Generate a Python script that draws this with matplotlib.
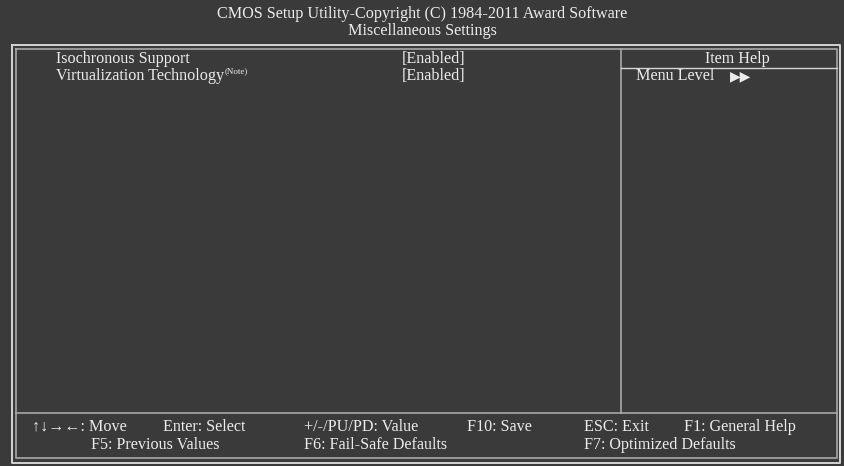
import matplotlib
matplotlib.use("Agg")
import matplotlib.pyplot as plt

plt.rcParams['font.family'] = ['Liberation Serif', 'DejaVu Sans']

title_lines = ["CMOS Setup Utility-Copyright (C) 1984-2011 Award Software",
               "Miscellaneous Settings"]
item_names = ["Isochronous Support", "Virtualization Technology"]
item_notes = ["", "(Note)"]
item_values = ["[Enabled]", "[Enabled]"]
help_title = "Item Help"
help_text = "Menu Level"
footer_row1 = ["\u2191\u2193\u2192\u2190: Move", "Enter: Select", "+/-/PU/PD: Value",
               "F10: Save", "ESC: Exit", "F1: General Help"]
footer_row2 = ["F5: Previous Values", "F6: Fail-Safe Defaults", "F7: Optimized Defaults"]

W, H = 844, 466
bg = '#3a3a3a'
fg = '#ececec'
line_c = '#d4d4d4'
dim_c = '#a8a8a8'

fig = plt.figure(figsize=(W / 100, H / 100), dpi=100, facecolor=bg)
ax = fig.add_axes([0, 0, 1, 1])
ax.set_xlim(0, W)
ax.set_ylim(H, 0)
ax.axis('off')
ax.set_facecolor(bg)

fs = 11.6

# title
ax.text(W / 2, 14, title_lines[0], ha='center', va='center', color=fg, fontsize=fs)
ax.text(W / 2, 31, title_lines[1], ha='center', va='center', color=fg, fontsize=fs)

# frames
ax.plot([12, 840, 840, 12, 12], [45, 45, 463, 463, 45], color=line_c, lw=1.4)
ax.plot([16, 837, 837, 16, 16], [49, 49, 458, 458, 49], color=dim_c, lw=1.2)
ax.plot([16, 837], [413, 413], color=dim_c, lw=1.2)
ax.plot([621, 621], [49, 413], color=dim_c, lw=1.2)
ax.plot([621, 837], [68, 68], color=line_c, lw=1.0)

# items
item_y = [59, 76]
for name, note, val, y in zip(item_names, item_notes, item_values, item_y):
    ax.text(56, y, name, ha='left', va='center', color=fg, fontsize=fs)
    if note:
        ax.text(225, y - 5, note, ha='left', va='center', color=fg, fontsize=6.5)
    ax.text(402, y, val, ha='left', va='center', color=fg, fontsize=fs)

# help panel
ax.text(737, 59, help_title, ha='center', va='center', color=fg, fontsize=fs)
ax.text(636, 76, help_text, ha='left', va='center', color=fg, fontsize=fs)
ax.text(730, 76, "\u25b6\u25b6", ha='left', va='center', color=fg, fontsize=10,
        family='DejaVu Sans')

# footer
x1 = [32, 163, 304, 467, 584, 684]
for x, s in zip(x1, footer_row1):
    ax.text(x, 427, s, ha='left', va='center', color=fg, fontsize=fs)
x2 = [91, 304, 584]
for x, s in zip(x2, footer_row2):
    ax.text(x, 445, s, ha='left', va='center', color=fg, fontsize=fs)

fig.savefig("out.png", dpi=100, facecolor=bg)
